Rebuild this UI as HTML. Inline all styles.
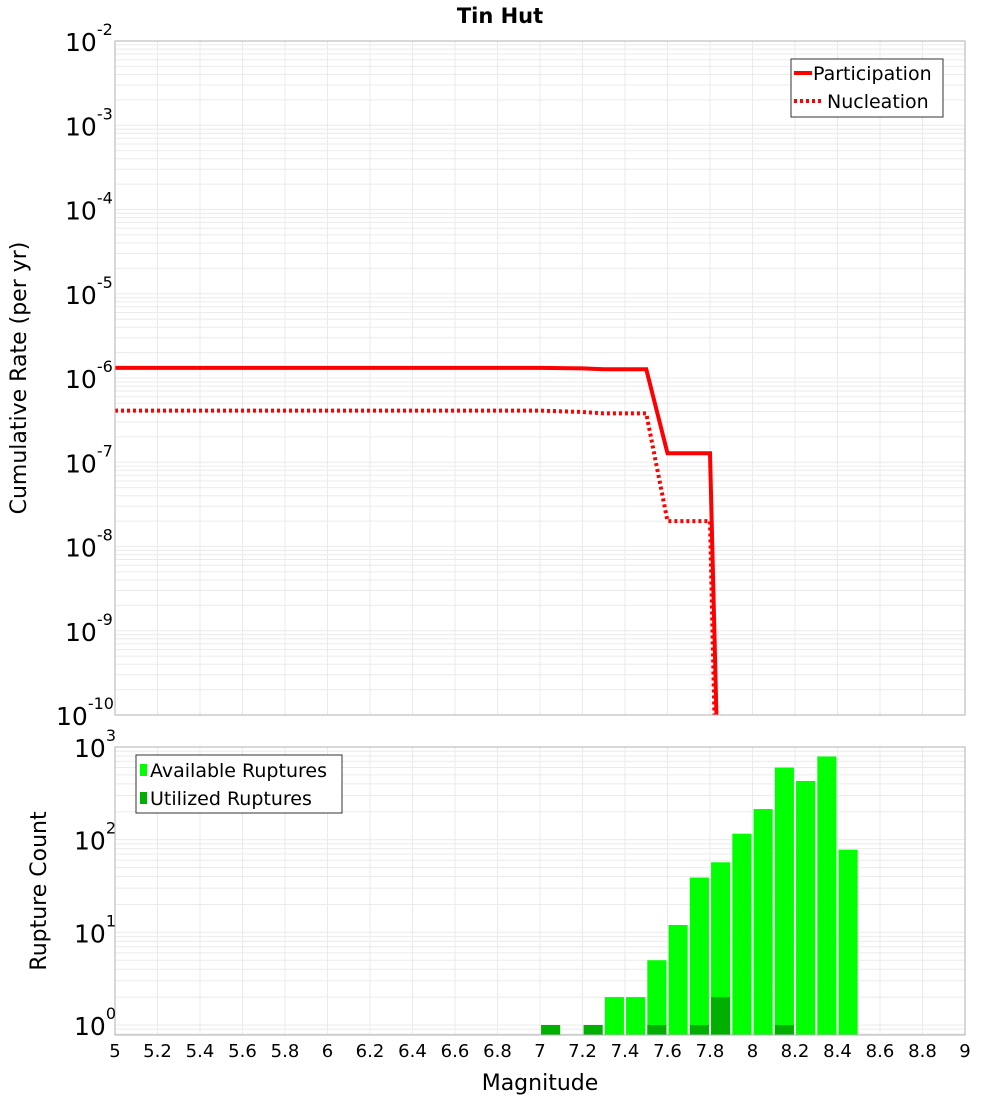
<!DOCTYPE html>
<html><head><meta charset="utf-8"><style>
body{margin:0;background:#fff;font-family:"Liberation Sans","DejaVu Sans",sans-serif}
svg text{font-family:"DejaVu Sans","Liberation Sans",sans-serif}
</style></head><body>
<svg id="c" width="1000" height="1100" xmlns="http://www.w3.org/2000/svg">
<text x="500" y="23" text-anchor="middle" font-size="21" font-weight="bold">Tin Hut</text>
<text transform="translate(26,378) rotate(-90)" text-anchor="middle" font-size="22">Cumulative Rate (per yr)</text>
<text transform="translate(46,891) rotate(-90)" text-anchor="middle" font-size="22">Rupture Count</text>
<text x="540" y="1090" text-anchor="middle" font-size="22">Magnitude</text>
</svg>
<script>
const partMags=[5,7.0,7.2,7.3,7.5,7.6,7.8,7.84];
const partRates=[1.32e-6,1.32e-6,1.3e-6,1.27e-6,1.27e-6,1.28e-7,1.28e-7,1e-11];
const nuclMags=[5,7.0,7.2,7.3,7.5,7.6,7.8,7.83];
const nuclRates=[4.1e-7,4.1e-7,3.95e-7,3.8e-7,3.8e-7,2.0e-8,2.0e-8,1e-11];
const binMags=[7.05,7.25,7.35,7.45,7.55,7.65,7.75,7.85,7.95,8.05,8.15,8.25,8.35,8.45];
const availCounts=[0,0,2,2,5,12,39,57,116,214,600,430,790,78];
const usedCounts=[1,1,0,0,1,0,1,2,0,0,1,0,0,0];
const xTicks=[5,5.2,5.4,5.6,5.8,6,6.2,6.4,6.6,6.8,7,7.2,7.4,7.6,7.8,8,8.2,8.4,8.6,8.8,9];
const topExps=[-2,-3,-4,-5,-6,-7,-8,-9,-10];
const botExps=[3,2,1,0];

const NS="http://www.w3.org/2000/svg";
const svg=document.getElementById('c');
const L=115,R=965;
const T1=41,B1=715,T2=747,B2=1035;
const x=m=>L+(m-5)/4*(R-L);
const y1=v=>{const l=Math.log10(v);return T1+(-2-l)/8*(B1-T1);};
const dec2=(1025-747)/3;
const y2=v=>1025-Math.log10(v)*dec2;
function mk(t,a,p){const e=document.createElementNS(NS,t);for(const k in a)e.setAttribute(k,a[k]);(p||svg).appendChild(e);return e;}

// plot backgrounds & grids
function grid(top,bot,yf,expLo,expHi,name){
  const g=mk('g',{});
  
  
  for(let e=expLo;e<expHi;e++)for(let k=1;k<10;k++){const yy=yf(k*Math.pow(10,e));if(yy<top||yy>bot)continue;mk('line',{x1:L,x2:R,y1:yy,y2:yy,stroke:'#ebebeb','stroke-width':1},g);}
  xTicks.forEach(t=>mk('line',{x1:x(t),x2:x(t),y1:top,y2:bot,stroke:'#ebebeb','stroke-width':1},g));
}
grid(T1,B1,y1,-10,-2,'top');
grid(T2,B2,y2,-1,3,'bottom');

// bars
const bw=0.09;
binMags.forEach((m,i)=>{
  if(availCounts[i]>0){const r=mk('rect',{x:x(m-bw/2),width:x(m+bw/2)-x(m-bw/2),y:y2(availCounts[i]),height:B2-y2(availCounts[i]),fill:'#00ff00'});
  
  }
  if(usedCounts[i]>0){const r=mk('rect',{x:x(m-bw/2),width:x(m+bw/2)-x(m-bw/2),y:y2(usedCounts[i]),height:B2-y2(usedCounts[i]),fill:'#00b000'});
  
  }
});

// lines
const cp=mk('clipPath',{id:'cp1'});mk('rect',{x:L,y:T1,width:R-L,height:B1-T1},cp);
function line(ms,vs,dash,name){
  const p=mk('polyline',{points:ms.map((m,i)=>x(m)+','+y1(vs[i])).join(' '),fill:'none',stroke:'#ff0000','stroke-width':4,'clip-path':'url(#cp1)'});
  if(dash)p.setAttribute('stroke-dasharray','3,3');
  
  
}
line(partMags,partRates,false,'participation-line');
line(nuclMags,nuclRates,true,'nucleation-line');

// frames
mk('rect',{x:L,y:T1,width:R-L,height:B1-T1,fill:'none',stroke:'#b0b0b0'});
mk('rect',{x:L,y:T2,width:R-L,height:B2-T2,fill:'none',stroke:'#b0b0b0'});

// y tick labels
function ylab(yy,e,name){
  const t=mk('text',{x:113,y:yy+10,'text-anchor':'end','font-size':25});
  
  
  t.textContent='10';
  const s=mk('tspan',{dy:-16,'font-size':16});s.textContent=String(e);t.appendChild(s);
  t.setAttribute('text-anchor','start');
  t.setAttribute('x',113-30-(String(e).length*9));
}
topExps.forEach(e=>ylab(y1(Math.pow(10,e)),e,'top-y-tick-label'));
botExps.forEach(e=>ylab(y2(Math.pow(10,e)),e,'bottom-y-tick-label'));

// x tick labels
xTicks.forEach(t=>{const tx=mk('text',{x:x(t),y:1057,'text-anchor':'middle','font-size':18});


tx.textContent=String(t);});

// legends
const lg1=mk('g',{});


mk('rect',{x:791,y:59,width:152,height:58,fill:'#fff',stroke:'#333'},lg1);
mk('line',{x1:794,x2:812,y1:73,y2:73,stroke:'#f00','stroke-width':4},lg1);
mk('line',{x1:794,x2:822,y1:101,y2:101,stroke:'#f00','stroke-width':4,'stroke-dasharray':'3,3'},lg1);
let t=mk('text',{x:813,y:80,'font-size':19},lg1);t.textContent='Participation';
t=mk('text',{x:827,y:108,'font-size':19},lg1);t.textContent='Nucleation';
const lg2=mk('g',{});


mk('rect',{x:136,y:755,width:206,height:58,fill:'#fff',stroke:'#333'},lg2);
mk('rect',{x:140,y:764,width:7,height:12,fill:'#00ff00'},lg2);
mk('rect',{x:140,y:792,width:7,height:12,fill:'#00b000'},lg2);
t=mk('text',{x:150,y:777,'font-size':19},lg2);t.textContent='Available Ruptures';
t=mk('text',{x:150,y:805,'font-size':19},lg2);t.textContent='Utilized Ruptures';
</script>
</body></html>
